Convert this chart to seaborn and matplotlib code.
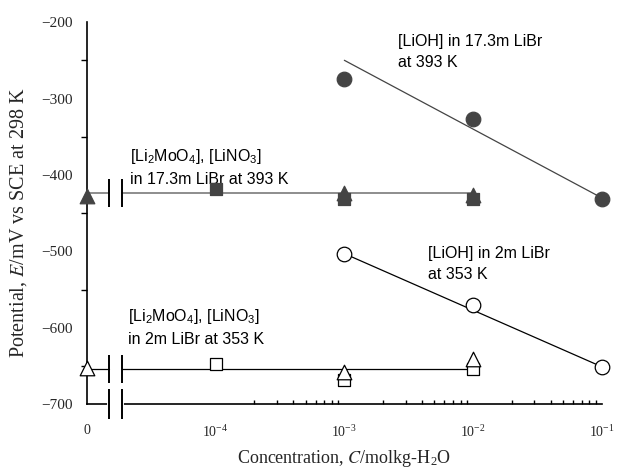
import matplotlib
matplotlib.use("Agg")
import matplotlib.pyplot as plt
from matplotlib.ticker import FixedLocator, NullFormatter
import seaborn as sns

# concentration in mol/kg-H2O; 0 is drawn in the slot left of the axis break
ZERO_POS = 1e-5
BREAK_X = [10 ** -4.83, 10 ** -4.73]

# ---- 17.3m LiBr at 393 K (filled symbols) ----
conc_lioh_393 = [1e-3, 1e-2, 1e-1]
e_lioh_393 = [-274, -327, -432]
fit_conc_lioh_393 = [1e-3, 1e-1]
fit_e_lioh_393 = [-250, -430]

conc_sq_393 = [1e-4, 1e-3, 1e-2]
e_sq_393 = [-418, -431, -432]
conc_tri_393 = [0, 1e-3, 1e-2]
e_tri_393 = [-428, -424, -426]
flat_e_393 = -424

# ---- 2m LiBr at 353 K (open symbols) ----
conc_lioh_353 = [1e-3, 1e-2, 1e-1]
e_lioh_353 = [-503, -570, -651]
fit_conc_lioh_353 = [1e-3, 1e-1]
fit_e_lioh_353 = [-503, -651]

conc_sq_353 = [1e-4, 1e-3, 1e-2]
e_sq_353 = [-647, -668, -654]
conc_tri_353 = [0, 1e-3, 1e-2]
e_tri_353 = [-652, -658, -641]
flat_e_353 = -654
flat_end = 1e-2

x_ticks = [ZERO_POS, 1e-4, 1e-3, 1e-2, 1e-1]
x_ticklabels = ["0", "10$^{-4}$", "10$^{-3}$", "10$^{-2}$", "10$^{-1}$"]
y_ticks = [-700, -600, -500, -400, -300, -200]

DARK = "#444444"
GREY = "#858585"
SERIF = ["Liberation Serif", "DejaVu Serif"]
SANS = ["Liberation Sans", "DejaVu Sans"]

sns.set_theme(style="white")
plt.rcParams["font.family"] = SANS
plt.rcParams["mathtext.fontset"] = "stix"
plt.rcParams["mathtext.default"] = "regular"


def xpos(conc):
    return [ZERO_POS if c == 0 else c for c in conc]


def points(ax, conc, e, marker, size, face, edge):
    sns.scatterplot(x=xpos(conc), y=e, marker=marker, s=size, color=face,
                    edgecolor=edge, linewidth=0.9, ax=ax, clip_on=False,
                    zorder=4, legend=False)


def broken_flat(ax, e, color, lw):
    sns.lineplot(x=[ZERO_POS, BREAK_X[0]], y=[e, e], color=color, lw=lw, ax=ax)
    sns.lineplot(x=[BREAK_X[1], flat_end], y=[e, e], color=color, lw=lw, ax=ax)
    ax.plot(BREAK_X, [e, e], ls="none", marker="|", ms=20, mew=1.4,
            color="black", zorder=5)


fig = plt.figure(figsize=(6.21, 4.70), dpi=100)
ax = fig.add_axes([0.140, 0.140, 0.829, 0.813])

# 393 K
sns.lineplot(x=fit_conc_lioh_393, y=fit_e_lioh_393, color=DARK, lw=0.9, ax=ax)
broken_flat(ax, flat_e_393, GREY, 1.3)
points(ax, conc_lioh_393, e_lioh_393, "o", 110, DARK, DARK)
points(ax, conc_sq_393, e_sq_393, "s", 70, DARK, DARK)
points(ax, conc_tri_393, e_tri_393, "^", 110, DARK, DARK)

# 353 K
sns.lineplot(x=fit_conc_lioh_353, y=fit_e_lioh_353, color="black", lw=0.9, ax=ax)
broken_flat(ax, flat_e_353, "black", 0.9)
points(ax, conc_lioh_353, e_lioh_353, "o", 110, "white", "black")
points(ax, conc_sq_353, e_sq_353, "s", 70, "white", "black")
points(ax, conc_tri_353, e_tri_353, "^", 110, "white", "black")

# axis break on the x axis
ax.plot(BREAK_X, [-700, -700], color="white", lw=3, clip_on=False, zorder=5)
ax.plot(BREAK_X, [-700, -700], ls="none", marker="|", ms=21, mew=1.4,
        color="black", clip_on=False, zorder=6)

ax.set_xscale("log")
ax.set_xlim(ZERO_POS, 1e-1)
ax.set_ylim(-700, -200)
ax.set_xticks(x_ticks)
ax.set_xticklabels(x_ticklabels, family=SERIF, fontsize=10)
ax.xaxis.set_minor_locator(FixedLocator(
    [k * 10.0 ** p for p in (-4, -3, -2) for k in range(2, 10)]))
ax.xaxis.set_minor_formatter(NullFormatter())
ax.set_yticks(y_ticks)
ax.set_yticklabels([f"\u2212{abs(v)}" for v in y_ticks], family=SERIF, fontsize=11)
ax.yaxis.set_minor_locator(FixedLocator([-650, -550, -450, -350, -250]))

for side in ["top", "right"]:
    ax.spines[side].set_visible(False)
for side in ["left", "bottom"]:
    ax.spines[side].set_color("black")
    ax.spines[side].set_linewidth(1.2)

ax.tick_params(axis="both", which="major", direction="out", length=6,
               width=1.1, color="black", pad=4)
ax.tick_params(axis="x", which="major", pad=8)
ax.tick_params(axis="y", which="minor", direction="out", length=4,
               width=1.0, left=True, color="black")
ax.tick_params(axis="x", which="minor", direction="in", length=3,
               width=1.0, bottom=True, color="black")

ax.set_ylabel("Potential, $\\mathit{E}$/mV vs SCE at 298 K", family=SERIF,
              fontsize=14.5)
ax.yaxis.set_label_coords(-0.112, 0.475)
ax.set_xlabel("Concentration, $\\mathit{C}$/molkg-H$_2$O", family=SERIF,
              fontsize=13, labelpad=6)

txt = dict(transform=ax.transAxes, family=SANS, fontsize=11.5, va="top",
           ha="left", linespacing=1.5, color="black")
ax.text(0.604, 0.970, "[LiOH] in 17.3m LiBr\nat 393 K", **txt)
ax.text(0.083, 0.673, "[Li$_2$MoO$_4$], [LiNO$_3$]\nin 17.3m LiBr at 393 K", **txt)
ax.text(0.662, 0.415, "[LiOH] in 2m LiBr\nat 353 K", **txt)
ax.text(0.079, 0.255, "[Li$_2$MoO$_4$], [LiNO$_3$]\nin 2m LiBr at 353 K", **txt)

fig.savefig("out.png", dpi=100)
